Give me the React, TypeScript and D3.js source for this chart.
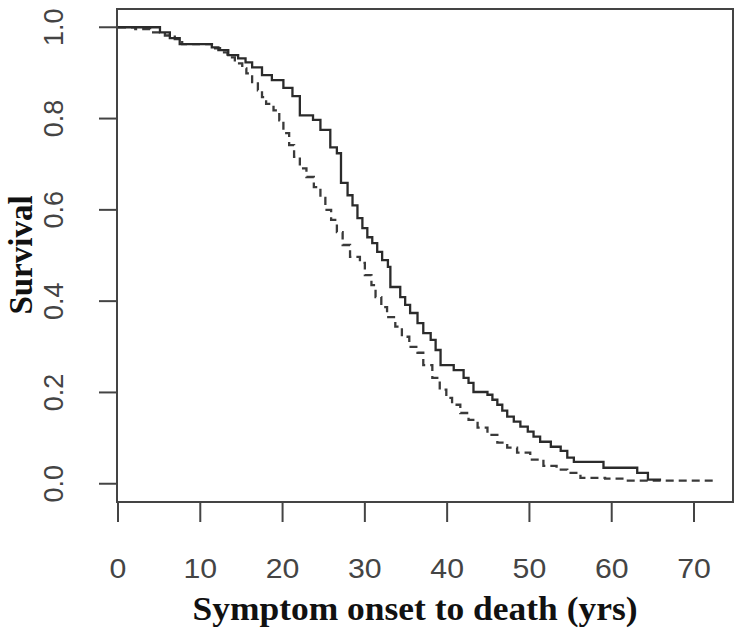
import React, { useEffect, useRef } from 'react';
import * as d3 from 'd3';

// Kaplan-Meier curves (time in years, survival)
const solidTimes = [0, 5.1, 6.3, 7.5, 11.4, 12.2, 13.4, 14.6, 15.5, 16.3, 17.5, 18.7, 20.1, 21.2, 22.1, 23.7, 24.6, 25.8, 26.6, 27.1, 27.9, 28.5, 29.1, 29.7, 30.3, 30.9, 31.5, 32.1, 32.8, 33.1, 34.3, 34.9, 35.5, 36.4, 37.1, 38.0, 38.6, 39.2, 40.8, 42.0, 42.6, 43.2, 44.9, 45.5, 46.1, 46.7, 47.3, 48.1, 48.9, 49.8, 50.5, 51.3, 52.6, 53.8, 54.6, 55.4, 59.0, 63.1, 64.4, 66.0];
const solidSurv = [1.0, 0.989, 0.976, 0.963, 0.956, 0.95, 0.939, 0.932, 0.923, 0.912, 0.895, 0.884, 0.867, 0.849, 0.807, 0.797, 0.775, 0.737, 0.724, 0.659, 0.632, 0.61, 0.582, 0.56, 0.54, 0.527, 0.508, 0.49, 0.475, 0.431, 0.409, 0.392, 0.374, 0.352, 0.33, 0.315, 0.293, 0.26, 0.249, 0.232, 0.221, 0.201, 0.195, 0.184, 0.173, 0.16, 0.147, 0.136, 0.125, 0.114, 0.103, 0.092, 0.081, 0.072, 0.057, 0.048, 0.035, 0.024, 0.009, 0.009];

const dashedTimes = [0, 2.1, 3.9, 5.7, 6.9, 7.8, 11.6, 12.4, 13.3, 14.2, 15.1, 15.6, 16.3, 17.0, 17.5, 18.0, 18.9, 19.6, 20.1, 20.8, 21.4, 22.1, 22.9, 23.8, 24.6, 25.2, 25.9, 26.6, 27.3, 28.2, 29.4, 30.0, 30.8, 31.3, 32.0, 32.7, 33.7, 34.5, 35.4, 36.4, 37.1, 38.2, 39.1, 39.9, 40.6, 41.6, 42.6, 43.7, 44.9, 46.1, 47.3, 48.5, 50.1, 51.7, 53.3, 54.6, 56.2, 59.2, 61.7, 72.3];
const dashedSurv = [1.0, 0.996, 0.989, 0.982, 0.974, 0.963, 0.954, 0.945, 0.934, 0.921, 0.91, 0.899, 0.88, 0.862, 0.847, 0.832, 0.818, 0.796, 0.768, 0.742, 0.716, 0.691, 0.672, 0.65, 0.626, 0.6, 0.578, 0.551, 0.523, 0.497, 0.484, 0.457, 0.435, 0.409, 0.387, 0.365, 0.344, 0.322, 0.3, 0.287, 0.26, 0.232, 0.206, 0.188, 0.173, 0.155, 0.14, 0.123, 0.107, 0.09, 0.079, 0.068, 0.053, 0.039, 0.031, 0.024, 0.013, 0.011, 0.007, 0.007];

const xTicks = [0, 10, 20, 30, 40, 50, 60, 70];
const yTicks = [0, 0.2, 0.4, 0.6, 0.8, 1.0];
const xTitle = 'Symptom onset to death (yrs)';
const yTitle = 'Survival';

const App = () => {
    const svgRef = useRef(null);

    useEffect(() => {
        const svg = d3.select(svgRef.current);
        svg.selectAll('*').remove();

        const box = { left: 117, right: 733, top: 9, bottom: 502 };
        const ink = '#444';

        const x = d3.scaleLinear().domain([0, 70]).range([118, 694]);
        const y = d3.scaleLinear().domain([-0.04, 1.04]).range([box.bottom, box.top]);

        const line = d3.line<[number, number]>()
            .x(d => x(d[0]))
            .y(d => y(d[1]))
            .curve(d3.curveStepAfter);

        const solid = solidTimes.map((t, i) => [t, solidSurv[i]] as [number, number]);
        const dashed = dashedTimes.map((t, i) => [t, dashedSurv[i]] as [number, number]);

        // 虚线在下
        svg.append('path')
            .attr('d', line(dashed))
            .attr('fill', 'none')
            .attr('stroke', '#3a3a3a')
            .attr('stroke-width', 2.3)
            .attr('stroke-dasharray', '8,5');

        svg.append('path')
            .attr('d', line(solid))
            .attr('fill', 'none')
            .attr('stroke', '#2b2b2b')
            .attr('stroke-width', 2.3);

        // 边框
        svg.append('rect')
            .attr('x', box.left)
            .attr('y', box.top)
            .attr('width', box.right - box.left)
            .attr('height', box.bottom - box.top)
            .attr('fill', 'none')
            .attr('stroke', ink)
            .attr('stroke-width', 2);

        // x轴
        const xAxis = svg.append('g');
        xAxis.selectAll('line')
            .data(xTicks)
            .join('line')
            .attr('x1', d => x(d))
            .attr('x2', d => x(d))
            .attr('y1', box.bottom)
            .attr('y2', box.bottom + 20)
            .attr('stroke', ink)
            .attr('stroke-width', 2);
        xAxis.selectAll('text')
            .data(xTicks)
            .join('text')
            .attr('transform', d => `translate(${x(d)},578) scale(1.08,1)`)
            .attr('text-anchor', 'middle')
            .attr('font-family', '"Liberation Sans", Arial, sans-serif')
            .attr('font-size', 28)
            .attr('fill', ink)
            .text(d => d);

        // y轴
        const yAxis = svg.append('g');
        yAxis.selectAll('line')
            .data(yTicks)
            .join('line')
            .attr('x1', box.left - 18)
            .attr('x2', box.left)
            .attr('y1', d => y(d))
            .attr('y2', d => y(d))
            .attr('stroke', ink)
            .attr('stroke-width', 2);
        yAxis.selectAll('text')
            .data(yTicks)
            .join('text')
            .attr('transform', d => `translate(63,${y(d)}) rotate(-90)`)
            .attr('text-anchor', 'middle')
            .attr('font-family', '"Liberation Sans", Arial, sans-serif')
            .attr('font-size', 27)
            .attr('fill', ink)
            .text(d => d.toFixed(1));

        // 标题
        svg.append('text')
            .attr('x', 415)
            .attr('y', 620)
            .attr('text-anchor', 'middle')
            .attr('font-family', '"Liberation Serif", "Times New Roman", serif')
            .attr('font-weight', 'bold')
            .attr('font-size', 33)
            .attr('textLength', 445)
            .attr('lengthAdjust', 'spacingAndGlyphs')
            .attr('fill', '#111')
            .text(xTitle);

        svg.append('text')
            .attr('transform', `translate(32,255) rotate(-90)`)
            .attr('text-anchor', 'middle')
            .attr('font-family', '"Liberation Serif", "Times New Roman", serif')
            .attr('font-weight', 'bold')
            .attr('font-size', 33)
            .attr('fill', '#111')
            .text(yTitle);
    }, []);

    return (
        <svg
            ref={svgRef}
            width={743}
            height={640}
            style={{ position: 'absolute', left: 0, top: 0, background: '#fff' }}
        ></svg>
    );
};

export default App;
